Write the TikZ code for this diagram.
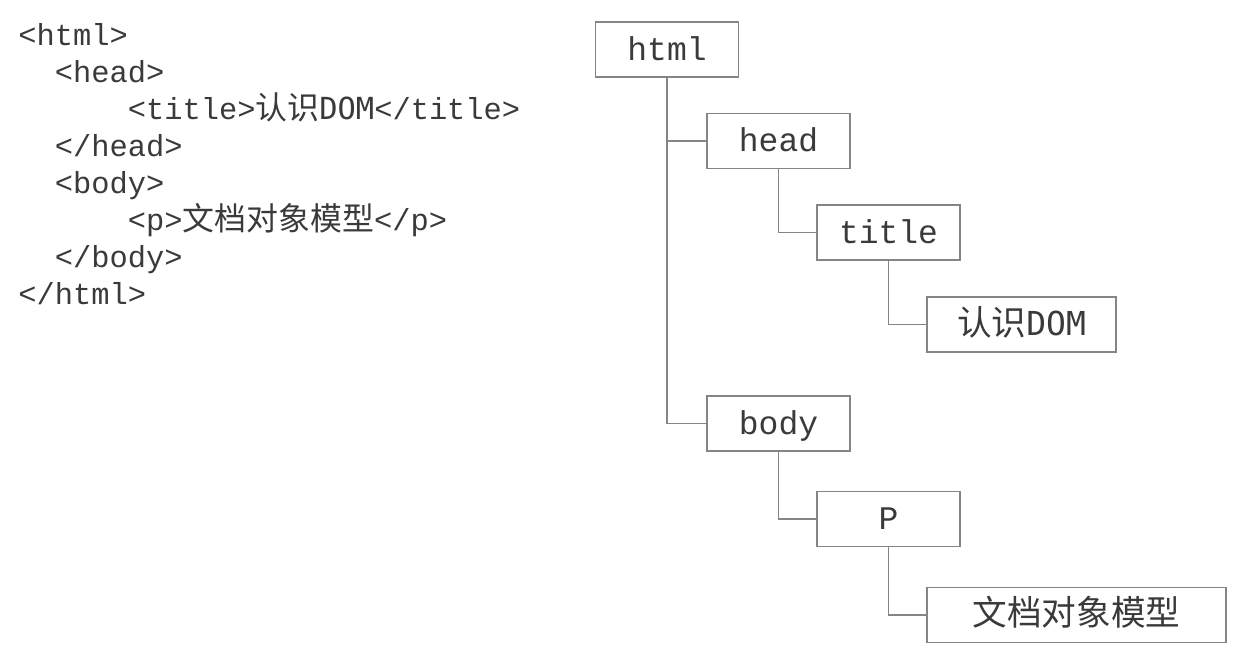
\documentclass[tikz,border=0pt]{standalone}
\usepackage{fontspec}
\setmonofont{Liberation Mono}
\newfontfamily\cjk[Scale=1.05]{Noto Sans CJK SC}
\newfontfamily\domfont{DejaVu Sans Mono}
\usepackage{tikz}
\usetikzlibrary{calc}
\definecolor{ink}{HTML}{3A3A3A}
\definecolor{frame}{HTML}{858585}
\tikzstyle{tag} = [rectangle, draw=frame, line width=0.75pt, text=ink,
font=\ttfamily\fontsize{16.5}{19}\selectfont, minimum width=71.5pt,
minimum height=27.5pt, text height=12pt, text depth=1.5pt]
\tikzstyle{line} = [draw=frame, line width=0.9pt]
\tikzstyle{source} = [anchor=base west, align=left, inner sep=0pt, text=ink,
font=\ttfamily\fontsize{15.2}{18.45}\selectfont]

\begin{document}
\begin{tikzpicture}[x=0.5pt, y=-0.5pt]
	\useasboundingbox (0,0) rectangle (1248,659);
	% Source code (anchored at the last line)
	\node [source] (code) at (18,304) {<html>\\
		\hspace*{1.2em}<head>\\
		\hspace*{3.6em}<title>{\cjk 认识}{\domfont DOM}</title>\\
		\hspace*{1.2em}</head>\\
		\hspace*{1.2em}<body>\\
		\hspace*{3.6em}<p>{\cjk 文档对象模型}</p>\\
		\hspace*{1.2em}</body>\\
		</html>};
	
	% Place nodes
	\node [tag] (html) at (667,49.5) {html};
	\node [tag] (head) at (778.5,141) {head};
	\node [tag] (title) at (888.5,232.5) {title};
	\node [tag, minimum width=94.5pt] (dom) at (1021.5,324.5) {{\cjk 认识}{\domfont DOM}};
	\node [tag] (body) at (778.5,423.5) {body};
	\node [tag] (p) at (888.5,519) {P};
	\node [tag, minimum width=149.5pt] (model) at (1076.5,615) {{\cjk 文档对象模型}};
	%
	\path [line] (html.south) |- (head.west);
	\path [line] (html.south) |- (body.west);
	\path [line] (head.south) |- (title.west);
	\path [line] (title.south) |- (dom.west);
	\path [line] (body.south) |- (p.west);
	\path [line] (p.south) |- (model.west);
\end{tikzpicture}
\end{document}
